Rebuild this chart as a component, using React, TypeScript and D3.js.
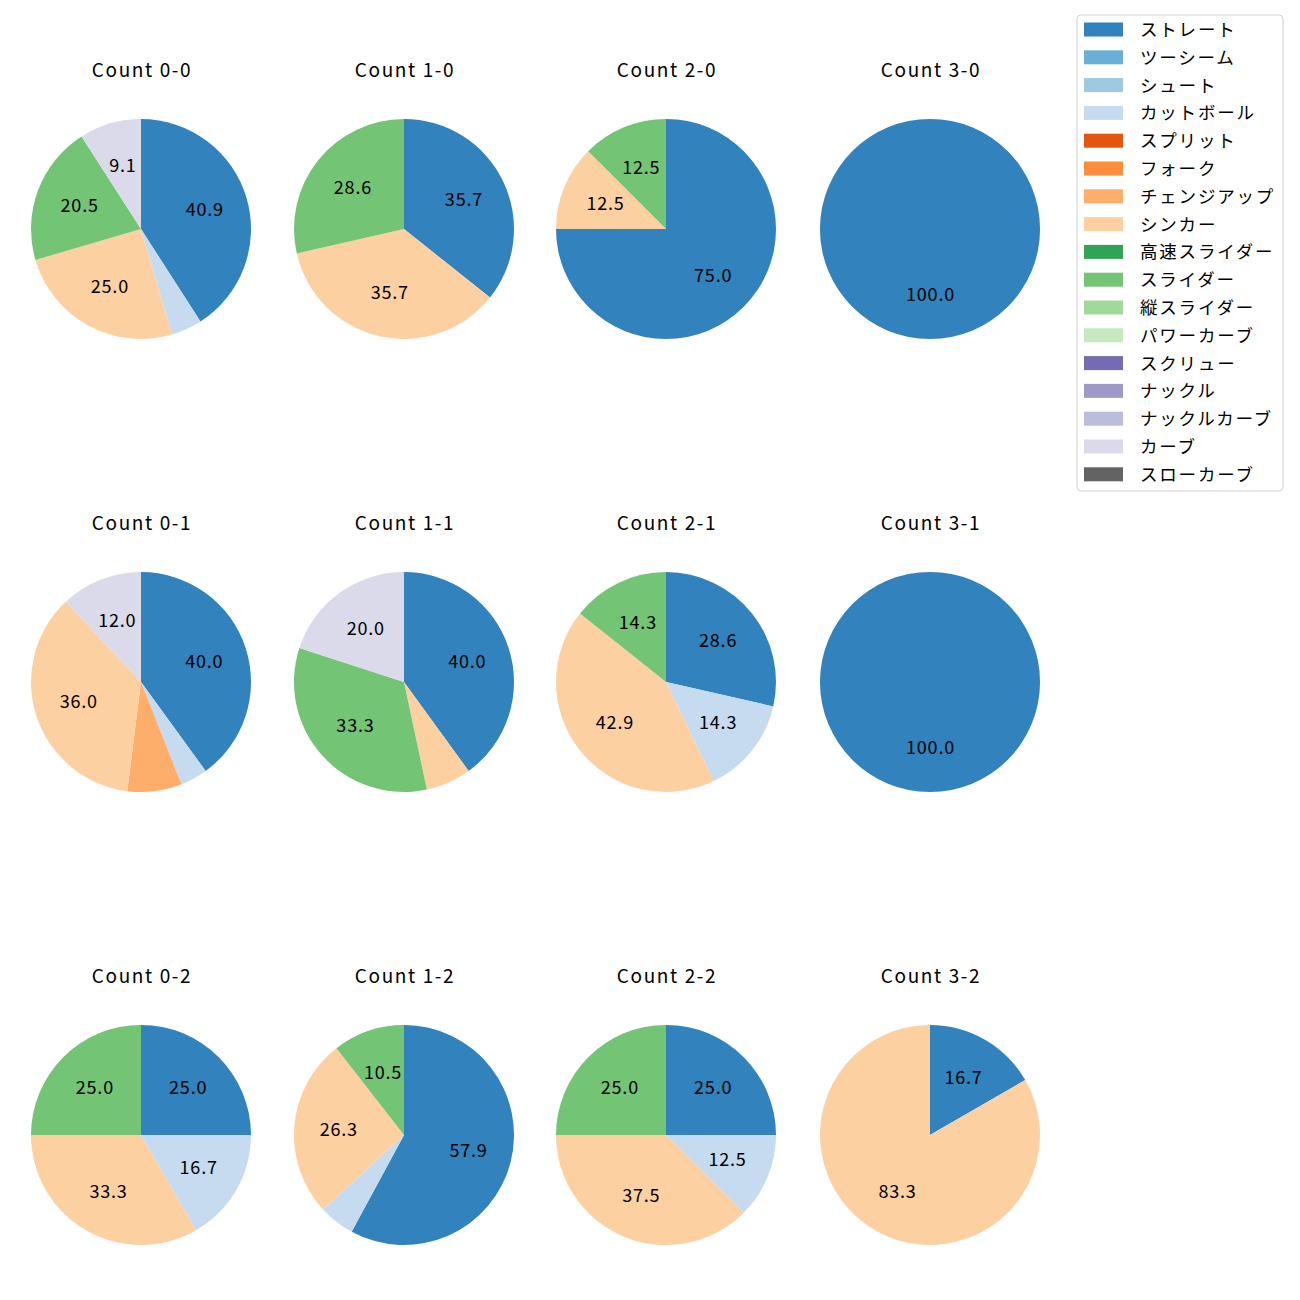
import React from "react";
import * as d3 from "d3";

const pitchTypes = [
  "ストレート", "ツーシーム", "シュート", "カットボール", "スプリット", "フォーク",
  "チェンジアップ", "シンカー", "高速スライダー", "スライダー", "縦スライダー",
  "パワーカーブ", "スクリュー", "ナックル", "ナックルカーブ", "カーブ", "スローカーブ",
];

const pitchColors = [
  "#3182bd", "#6baed6", "#9ecae1", "#c6dbef", "#e6550d", "#fd8d3c",
  "#fdae6b", "#fdd0a2", "#31a354", "#74c476", "#a1d99b", "#c7e9c0",
  "#756bb1", "#9e9ac8", "#bcbddc", "#dadaeb", "#636363",
];

const countTitles = [
  ["Count 0-0", "Count 1-0", "Count 2-0", "Count 3-0"],
  ["Count 0-1", "Count 1-1", "Count 2-1", "Count 3-1"],
  ["Count 0-2", "Count 1-2", "Count 2-2", "Count 3-2"],
];

// pitch counts per type, in pitchTypes order
const count00 = [18, 0, 0, 2, 0, 0, 0, 11, 0, 9, 0, 0, 0, 0, 0, 4, 0];
const count10 = [5, 0, 0, 0, 0, 0, 0, 5, 0, 4, 0, 0, 0, 0, 0, 0, 0];
const count20 = [6, 0, 0, 0, 0, 0, 0, 1, 0, 1, 0, 0, 0, 0, 0, 0, 0];
const count30 = [3, 0, 0, 0, 0, 0, 0, 0, 0, 0, 0, 0, 0, 0, 0, 0, 0];
const count01 = [10, 0, 0, 1, 0, 0, 2, 9, 0, 0, 0, 0, 0, 0, 0, 3, 0];
const count11 = [6, 0, 0, 0, 0, 0, 0, 1, 0, 5, 0, 0, 0, 0, 0, 3, 0];
const count21 = [2, 0, 0, 1, 0, 0, 0, 3, 0, 1, 0, 0, 0, 0, 0, 0, 0];
const count31 = [2, 0, 0, 0, 0, 0, 0, 0, 0, 0, 0, 0, 0, 0, 0, 0, 0];
const count02 = [3, 0, 0, 2, 0, 0, 0, 4, 0, 3, 0, 0, 0, 0, 0, 0, 0];
const count12 = [11, 0, 0, 1, 0, 0, 0, 5, 0, 2, 0, 0, 0, 0, 0, 0, 0];
const count22 = [2, 0, 0, 1, 0, 0, 0, 3, 0, 2, 0, 0, 0, 0, 0, 0, 0];
const count32 = [1, 0, 0, 0, 0, 0, 0, 5, 0, 0, 0, 0, 0, 0, 0, 0, 0];

const countData = [
  [count00, count10, count20, count30],
  [count01, count11, count21, count31],
  [count02, count12, count22, count32],
];

const FONT = "'Noto Sans CJK JP', 'Noto Sans', sans-serif";

export default function App() {
  const colX = [141, 404, 666, 930];
  const rowY = [229, 682, 1135];
  const R = 110;
  const pie = d3.pie<number>().sort(null).value((d) => d);
  const arc = d3.arc<d3.PieArcDatum<number>>().innerRadius(0).outerRadius(R);

  const legX = 1077, legY = 15, legW = 206, legH = 476;
  const rowH = 27.8;

  return (
    <svg width={1300} height={1300} style={{ display: "block", position: "absolute", left: 0, top: 0 }} fontFamily={FONT}>
      <rect x={0} y={0} width={1300} height={1300} fill="#fff" />
      {countData.map((row, ri) =>
        row.map((vals, ci) => {
          const cx = colX[ci], cy = rowY[ri];
          const total = d3.sum(vals);
          const arcs = pie(vals);
          return (
            <g key={`${ri}-${ci}`}>
              <text x={cx + 1} y={cy - 161} textAnchor="middle" dominantBaseline="central" fontSize={19} letterSpacing={1.6} fill="#000">
                {countTitles[ri][ci]}
              </text>
              <g transform={`translate(${cx},${cy})`}>
                {arcs.map((a, i) =>
                  a.value > 0 ? <path key={i} d={arc(a) || ""} fill={pitchColors[i]} /> : null
                )}
                {arcs.map((a, i) => {
                  const pct = (a.value / total) * 100;
                  if (a.value <= 0 || pct < 9) return null;
                  const mid = (a.startAngle + a.endAngle) / 2;
                  const x = Math.sin(mid) * R * 0.6;
                  const y = -Math.cos(mid) * R * 0.6;
                  return (
                    <text key={`t${i}`} x={x + 0.5} y={y - 2} textAnchor="middle" dominantBaseline="central" fontSize={18} letterSpacing={0.8} fill="#000">
                      {pct.toFixed(1)}
                    </text>
                  );
                })}
              </g>
            </g>
          );
        })
      )}
      <rect x={legX} y={legY} width={legW} height={legH} rx={4} fill="#fff" stroke="#d0d0d0" strokeWidth={1} />
      {pitchTypes.map((p, i) => {
        const y = 29.5 + i * rowH;
        return (
          <g key={p}>
            <rect x={1084} y={y - 7} width={39} height={14} fill={pitchColors[i]} />
            <text x={1140} y={y - 1} dominantBaseline="central" fontSize={17.5} letterSpacing={1.8} fill="#000">
              {p}
            </text>
          </g>
        );
      })}
    </svg>
  );
}
